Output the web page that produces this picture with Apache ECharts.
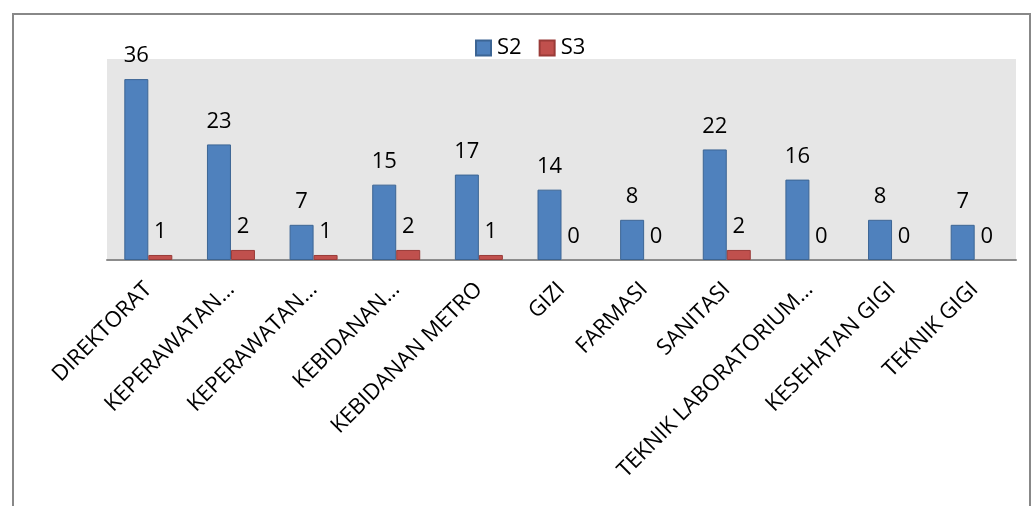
<!DOCTYPE html>
<html>
<head>
<meta charset="utf-8">
<script src="https://cdn.jsdelivr.net/npm/echarts@6/dist/echarts.min.js"></script>
<style>
    html, body { margin: 0; padding: 0; background: #fff; }
    #frame {
        position: absolute; left: 12px; top: 13px; width: 1019px; height: 520px;
        border: 2px solid #888; border-bottom: none; box-sizing: border-box;
    }
    #chart { position: absolute; left: 0; top: 0; width: 1035px; height: 506px; }
</style>
</head>
<body>
<div id="frame"></div>
<div id="chart"></div>
<script>
// categories (as shown, truncated names kept)
const categories = [
    'DIREKTORAT', 'KEPERAWATAN…', 'KEPERAWATAN…', 'KEBIDANAN…', 'KEBIDANAN METRO',
    'GIZI', 'FARMASI', 'SANITASI', 'TEKNIK LABORATORIUM…', 'KESEHATAN GIGI', 'TEKNIK GIGI'
];
const s2Values = [36, 23, 7, 15, 17, 14, 8, 22, 16, 8, 7];
const s3Values = [1, 2, 1, 2, 1, 0, 0, 2, 0, 0, 0];

const font = '"Open Sans", "Noto Sans", sans-serif';

const labelStyle = {
    show: true,
    position: 'top',
    distance: 12,
    color: '#000',
    fontSize: 22,
    fontFamily: font,
};

// zero bars get no outline, so nothing is drawn for them
const toData = arr => arr.map(v => (v === 0 ? { value: v, itemStyle: { borderWidth: 0 } } : v));

const myChart = echarts.init(document.getElementById('chart'));
myChart.setOption({
    animation: false,
    legend: {
        left: 470,
        top: 32,
        itemWidth: 15,
        itemHeight: 15,
        itemGap: 17,
        textStyle: { color: '#000', fontSize: 22, fontFamily: font, padding: [0, 0, 0, 1] },
        data: [
            { name: 'S2', icon: 'rect' },
            { name: 'S3', icon: 'rect' },
        ],
    },
    grid: {
        left: 107,
        right: 19,
        top: 59,
        bottom: 246,
        show: true,
        backgroundColor: '#e6e6e6',
        borderWidth: 0,
    },
    xAxis: {
        type: 'category',
        data: categories,
        axisLine: { lineStyle: { color: '#8c8c8c', width: 2 } },
        axisTick: { show: false },
        axisLabel: {
            interval: 0,
            rotate: 45,
            margin: 26,
            color: '#000',
            fontSize: 22,
            fontFamily: font,
        },
    },
    yAxis: {
        type: 'value',
        min: 0,
        max: 40,
        show: false,
        splitLine: { show: false },
    },
    series: [
        {
            name: 'S2',
            type: 'bar',
            data: toData(s2Values),
            barWidth: 24,
            barGap: '0%',
            itemStyle: { color: '#4f81bd', borderColor: '#3c6594', borderWidth: 1 },
            label: labelStyle,
        },
        {
            name: 'S3',
            type: 'bar',
            data: toData(s3Values),
            barWidth: 24,
            itemStyle: { color: '#c0504d', borderColor: '#9a3b38', borderWidth: 1 },
            label: labelStyle,
        },
    ],
});
window.addEventListener('resize', () => myChart.resize());
</script>
</body>
</html>
